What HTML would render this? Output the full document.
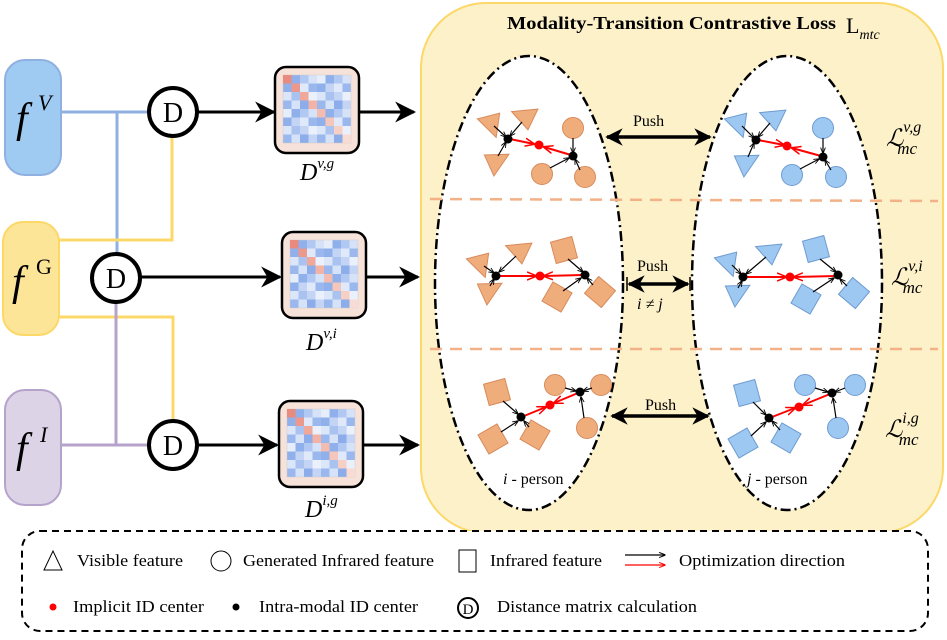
<!DOCTYPE html>
<html><head><meta charset="utf-8"><style>
html,body{margin:0;padding:0;background:#fff;}
svg{display:block;}
text{font-family:"Liberation Serif",serif;}
</style></head><body>
<svg width="947" height="640" viewBox="0 0 947 640" xmlns="http://www.w3.org/2000/svg">
<defs>
<marker id="ab" viewBox="0 0 10 10" refX="9" refY="5" markerWidth="7" markerHeight="7" orient="auto-start-reverse"><path d="M0,0 L10,5 L0,10 L3,5 z" fill="#000"/></marker>
<marker id="abig" viewBox="0 0 10 10" refX="9" refY="5" markerWidth="5" markerHeight="5" orient="auto-start-reverse"><path d="M0,0 L10,5 L0,10 L3,5 z" fill="#000"/></marker>
<marker id="as" viewBox="0 0 10 10" refX="9" refY="5" markerWidth="5" markerHeight="5" orient="auto"><path d="M0,1 L10,5 L0,9" fill="none" stroke="#000" stroke-width="1.5"/></marker>
<marker id="ar" viewBox="0 0 10 10" refX="9" refY="5" markerWidth="5" markerHeight="5" orient="auto"><path d="M0,1 L10,5 L0,9" fill="none" stroke="#f00" stroke-width="1.5"/></marker>
<pattern id="mp" x="0" y="0" width="34" height="34" patternUnits="userSpaceOnUse">
<rect width="34" height="34" fill="#c3d4f4"/>
<rect x="0" y="0" width="8.5" height="8.5" fill="#e6eefb"/><rect x="8.5" y="0" width="8.5" height="8.5" fill="#8fb0ea"/><rect x="17" y="0" width="8.5" height="8.5" fill="#b0c8f2"/><rect x="25.5" y="0" width="8.5" height="8.5" fill="#d6e2f8"/>
<rect x="0" y="8.5" width="8.5" height="8.5" fill="#8fb0ea"/><rect x="17" y="8.5" width="8.5" height="8.5" fill="#e0e9fa"/><rect x="25.5" y="8.5" width="8.5" height="8.5" fill="#9ab8ee"/>
<rect x="0" y="17" width="8.5" height="8.5" fill="#dbe6f9"/><rect x="8.5" y="17" width="8.5" height="8.5" fill="#a9c2f0"/><rect x="25.5" y="17" width="8.5" height="8.5" fill="#eaf0fc"/>
<rect x="0" y="25.5" width="8.5" height="8.5" fill="#9ab8ee"/><rect x="8.5" y="25.5" width="8.5" height="8.5" fill="#d6e2f8"/><rect x="17" y="25.5" width="8.5" height="8.5" fill="#8cacea"/>
</pattern>
<g id="mat">
<rect x="0" y="0" width="84" height="86" rx="11" fill="#f6e2d8" stroke="#000" stroke-width="2.5"/>
<g transform="translate(8,8)">
<rect x="0" y="0" width="68" height="68" fill="url(#mp)" stroke="#ccc" stroke-width="0.5"/>
<rect x="0" y="0" width="8.5" height="8.5" fill="#e88a7e"/><rect x="8.5" y="8.5" width="8.5" height="8.5" fill="#eb998d"/><rect x="17" y="17" width="8.5" height="8.5" fill="#efa899"/><rect x="25.5" y="25.5" width="8.5" height="8.5" fill="#f2b3a6"/><rect x="34" y="34" width="8.5" height="8.5" fill="#f3bcb0"/><rect x="42.5" y="42.5" width="8.5" height="8.5" fill="#f5c6bb"/><rect x="51" y="51" width="8.5" height="8.5" fill="#f6cfc5"/><rect x="59.5" y="59.5" width="8.5" height="8.5" fill="#f8dbd3"/>
</g>
</g>
<g id="D"><circle r="24" fill="#fff" stroke="#000" stroke-width="4"/><text y="10" text-anchor="middle" font-size="28">D</text></g>
<polygon id="to" points="-12,-12 12,-1 -7,12" fill="#f0ad7c" stroke="#d88a5a" stroke-width="1"/>
<polygon id="tb" points="-12,-12 12,-1 -7,12" fill="#9cc8f2" stroke="#6f9bd0" stroke-width="1"/>
<circle id="co" r="10.5" fill="#f0ad7c" stroke="#d88a5a" stroke-width="1"/>
<circle id="cb" r="10.5" fill="#9cc8f2" stroke="#6f9bd0" stroke-width="1"/>
<rect id="so" x="-11" y="-11" width="22" height="22" fill="#f0ad7c" stroke="#d88a5a" stroke-width="1"/>
<rect id="sb" x="-11" y="-11" width="22" height="22" fill="#9cc8f2" stroke="#6f9bd0" stroke-width="1"/>
</defs>

<!-- left feature boxes -->
<rect x="5" y="60" width="56" height="115" rx="20" fill="#9fcbf3" stroke="#8fb0e0" stroke-width="2"/>
<rect x="3" y="222" width="56" height="113" rx="20" fill="#fde598" stroke="#fcd869" stroke-width="2"/>
<rect x="5" y="390" width="56" height="115" rx="20" fill="#dcd4e6" stroke="#b6a3cc" stroke-width="2"/>
<text x="16" y="132" font-size="42" font-style="italic">f</text><text x="38" y="110" font-size="22" font-style="italic">V</text>
<text x="12" y="295" font-size="42" font-style="italic">f</text><text x="36" y="274" font-size="22">G</text>
<text x="16" y="462" font-size="42" font-style="italic">f</text><text x="40" y="442" font-size="22" font-style="italic">I</text>

<!-- connectors -->
<g fill="none" stroke-width="3">
<path d="M61,112 H150 M117,112 V254" stroke="#8fb0e0"/>
<path d="M59,240 H172 V137" stroke="#fcd869"/>
<path d="M59,317 H173 V421" stroke="#fcd869"/>
<path d="M116,302 V445 M61,445 H150" stroke="#b6a3cc"/>
</g>
<g stroke="#000" stroke-width="3" fill="none">
<line x1="197" y1="112" x2="274" y2="112" marker-end="url(#ab)"/>
<line x1="140" y1="277" x2="280" y2="277" marker-end="url(#ab)"/>
<line x1="197" y1="445" x2="277" y2="445" marker-end="url(#ab)"/>
<line x1="360" y1="112" x2="414" y2="112" marker-end="url(#ab)"/>
<line x1="366" y1="277" x2="418" y2="277" marker-end="url(#ab)"/>
<line x1="363" y1="445" x2="418" y2="445" marker-end="url(#ab)"/>
</g>
<use href="#D" x="173" y="112"/><use href="#D" x="116" y="278"/><use href="#D" x="173" y="445"/>
<use href="#mat" x="275" y="67"/><use href="#mat" x="282" y="232"/><use href="#mat" x="279" y="401"/>
<text x="300" y="180" font-size="24" font-style="italic">D<tspan font-size="15" dy="-12">v,g</tspan></text>
<text x="306" y="350" font-size="24" font-style="italic">D<tspan font-size="15" dy="-12">v,i</tspan></text>
<text x="305" y="517" font-size="24" font-style="italic">D<tspan font-size="15" dy="-12">i,g</tspan></text>

<!-- big region -->
<rect x="421" y="3" width="522" height="530" rx="65" fill="#fdf1c9" stroke="#fcd869" stroke-width="2"/>
<text x="507" y="29" font-size="18" font-weight="bold" textLength="329" lengthAdjust="spacingAndGlyphs">Modality-Transition Contrastive Loss</text>
<text x="846" y="33" font-size="22">L<tspan font-size="14" font-style="italic" dy="6">mtc</tspan></text>
<ellipse cx="529" cy="283" rx="94" ry="227" fill="#fff" stroke="#000" stroke-width="2.5" stroke-dasharray="10,4,2,4"/>
<ellipse cx="787" cy="283" rx="95" ry="227" fill="#fff" stroke="#000" stroke-width="2.5" stroke-dasharray="10,4,2,4"/>
<g stroke="#f2b187" stroke-width="2.5" stroke-dasharray="12,8">
<line x1="430" y1="199" x2="938" y2="201"/><line x1="430" y1="349" x2="938" y2="349"/>
</g>

<!-- push arrows -->
<g stroke="#000" stroke-width="3.5">
<line x1="607" y1="137" x2="710" y2="137" marker-start="url(#abig)" marker-end="url(#abig)"/>
<line x1="629" y1="284" x2="688" y2="284" marker-start="url(#abig)" marker-end="url(#abig)"/>
<line x1="612" y1="416" x2="708" y2="416" marker-start="url(#abig)" marker-end="url(#abig)"/>
<line x1="627" y1="277" x2="627" y2="291" stroke-width="1.5"/><line x1="690" y1="277" x2="690" y2="291" stroke-width="1.5"/>
</g>
<g font-size="16">
<text x="633" y="126">Push</text>
<text x="637" y="271">Push</text>
<text x="645" y="410">Push</text>
<text x="637" y="309" font-style="italic">i ≠ j</text>
<text x="503" y="484"><tspan font-style="italic">i</tspan> - person</text>
<text x="747" y="484"><tspan font-style="italic">j</tspan> - person</text>
</g>
<g font-size="24" font-style="italic">
<text x="886" y="146">ℒ<tspan font-size="16" dy="-14">v,g</tspan><tspan font-size="17" dx="-24" dy="22">mc</tspan></text>
<text x="891" y="285">ℒ<tspan font-size="16" dy="-14">v,i</tspan><tspan font-size="17" dx="-20" dy="22">mc</tspan></text>
<text x="885" y="437">ℒ<tspan font-size="16" dy="-14">i,g</tspan><tspan font-size="17" dx="-20" dy="22">mc</tspan></text>
</g>

<!-- row 1 left -->
<use href="#to" transform="translate(489,122) rotate(200)"/><use href="#to" transform="translate(528,116) rotate(-30)"/><use href="#to" transform="translate(495,164) rotate(100)"/>
<use href="#co" x="573" y="128"/><use href="#co" x="542" y="174"/><use href="#co" x="585" y="177"/>
<g stroke="#000" stroke-width="1.2" marker-end="url(#as)">
<line x1="494" y1="126" x2="506" y2="137"/><line x1="522" y1="122" x2="510" y2="136"/><line x1="498" y1="156" x2="506" y2="142"/>
<line x1="573" y1="138" x2="573" y2="153"/><line x1="550" y1="168" x2="569" y2="158"/><line x1="580" y1="170" x2="575" y2="159"/>
</g>
<g stroke="#f00" stroke-width="2"><line x1="510" y1="139" x2="534" y2="144" marker-end="url(#ar)"/><line x1="571" y1="155" x2="544" y2="147" marker-end="url(#ar)"/></g>
<circle cx="508" cy="139" r="4.5"/><circle cx="573" cy="156" r="4.5"/><circle cx="539" cy="145" r="4.5" fill="#f00"/>

<!-- row 1 right -->
<use href="#tb" transform="translate(736,122) rotate(200)"/><use href="#tb" transform="translate(776,117) rotate(-30)"/><use href="#tb" transform="translate(745,165) rotate(100)"/>
<use href="#cb" x="823" y="128"/><use href="#cb" x="792" y="175"/><use href="#cb" x="836" y="177"/>
<g stroke="#000" stroke-width="1.2" marker-end="url(#as)">
<line x1="742" y1="126" x2="754" y2="138"/><line x1="770" y1="123" x2="758" y2="137"/><line x1="748" y1="157" x2="754" y2="143"/>
<line x1="823" y1="138" x2="823" y2="153"/><line x1="800" y1="169" x2="819" y2="159"/><line x1="831" y1="170" x2="825" y2="160"/>
</g>
<g stroke="#f00" stroke-width="2"><line x1="758" y1="140" x2="784" y2="145" marker-end="url(#ar)"/><line x1="821" y1="156" x2="792" y2="148" marker-end="url(#ar)"/></g>
<circle cx="756" cy="140" r="4.5"/><circle cx="823" cy="157" r="4.5"/><circle cx="787" cy="146" r="4.5" fill="#f00"/>

<!-- row 2 left -->
<use href="#to" transform="translate(478,262) rotate(200)"/><use href="#to" transform="translate(522,250) rotate(-30)"/><use href="#to" transform="translate(488,293) rotate(100)"/>
<use href="#so" transform="translate(564,250) rotate(-15)"/><use href="#so" transform="translate(557,297) rotate(30)"/><use href="#so" transform="translate(600,292) rotate(40)"/>
<g stroke="#000" stroke-width="1.2" marker-end="url(#as)">
<line x1="484" y1="266" x2="494" y2="273"/><line x1="516" y1="256" x2="499" y2="272"/><line x1="490" y1="286" x2="494" y2="279"/>
<line x1="568" y1="259" x2="583" y2="272"/><line x1="563" y1="291" x2="581" y2="278"/><line x1="593" y1="285" x2="587" y2="278"/>
</g>
<g stroke="#f00" stroke-width="2"><line x1="499" y1="276" x2="536" y2="276" marker-end="url(#ar)"/><line x1="583" y1="275" x2="544" y2="276" marker-end="url(#ar)"/></g>
<circle cx="496" cy="276" r="4.5"/><circle cx="585" cy="275" r="4.5"/><circle cx="540" cy="276" r="4.5" fill="#f00"/>

<!-- row 2 right -->
<use href="#tb" transform="translate(726,261) rotate(200)"/><use href="#tb" transform="translate(772,251) rotate(-30)"/><use href="#tb" transform="translate(736,295) rotate(100)"/>
<use href="#sb" transform="translate(816,249) rotate(-15)"/><use href="#sb" transform="translate(806,299) rotate(30)"/><use href="#sb" transform="translate(854,293) rotate(40)"/>
<g stroke="#000" stroke-width="1.2" marker-end="url(#as)">
<line x1="732" y1="265" x2="741" y2="274"/><line x1="766" y1="257" x2="746" y2="274"/><line x1="738" y1="288" x2="742" y2="281"/>
<line x1="820" y1="259" x2="836" y2="272"/><line x1="813" y1="292" x2="834" y2="278"/><line x1="847" y1="286" x2="840" y2="279"/>
</g>
<g stroke="#f00" stroke-width="2"><line x1="746" y1="277" x2="786" y2="277" marker-end="url(#ar)"/><line x1="836" y1="276" x2="794" y2="277" marker-end="url(#ar)"/></g>
<circle cx="743" cy="277" r="4.5"/><circle cx="838" cy="275" r="4.5"/><circle cx="790" cy="277" r="4.5" fill="#f00"/>

<!-- row 3 left -->
<use href="#so" transform="translate(497,392) rotate(-15)"/><use href="#so" transform="translate(493,439) rotate(-30)"/><use href="#so" transform="translate(535,435) rotate(30)"/>
<use href="#co" x="555" y="385"/><use href="#co" x="601" y="385"/><use href="#co" x="587" y="428"/>
<g stroke="#000" stroke-width="1.2" marker-end="url(#as)">
<line x1="503" y1="401" x2="518" y2="414"/><line x1="501" y1="432" x2="518" y2="421"/><line x1="529" y1="427" x2="524" y2="421"/>
<line x1="565" y1="388" x2="576" y2="391"/><line x1="592" y1="388" x2="583" y2="391"/><line x1="584" y1="418" x2="581" y2="397"/>
</g>
<g stroke="#f00" stroke-width="2"><line x1="524" y1="416" x2="546" y2="407" marker-end="url(#ar)"/><line x1="578" y1="393" x2="554" y2="403" marker-end="url(#ar)"/></g>
<circle cx="521" cy="417" r="4.5"/><circle cx="580" cy="392" r="4.5"/><circle cx="550" cy="405" r="4.5" fill="#f00"/>

<!-- row 3 right -->
<use href="#sb" transform="translate(747,393) rotate(-15)"/><use href="#sb" transform="translate(743,443) rotate(-30)"/><use href="#sb" transform="translate(786,438) rotate(30)"/>
<use href="#cb" x="805" y="385"/><use href="#cb" x="855" y="385"/><use href="#cb" x="838" y="428"/>
<g stroke="#000" stroke-width="1.2" marker-end="url(#as)">
<line x1="753" y1="402" x2="766" y2="415"/><line x1="751" y1="436" x2="766" y2="422"/><line x1="780" y1="430" x2="772" y2="421"/>
<line x1="815" y1="388" x2="828" y2="392"/><line x1="845" y1="388" x2="835" y2="392"/><line x1="836" y1="418" x2="833" y2="398"/>
</g>
<g stroke="#f00" stroke-width="2"><line x1="772" y1="417" x2="795" y2="408" marker-end="url(#ar)"/><line x1="830" y1="394" x2="803" y2="405" marker-end="url(#ar)"/></g>
<circle cx="769" cy="418" r="4.5"/><circle cx="832" cy="393" r="4.5"/><circle cx="799" cy="407" r="4.5" fill="#f00"/>

<!-- legend -->
<rect x="22" y="531" width="906" height="100" rx="18" fill="#fff" stroke="#000" stroke-width="2" stroke-dasharray="7,5"/>
<g font-size="17">
<polygon points="53,551 44,570 62,570" fill="#fff" stroke="#000" stroke-width="1"/>
<text x="77" y="566" textLength="106" lengthAdjust="spacingAndGlyphs">Visible feature</text>
<circle cx="221" cy="561" r="10" fill="#fff" stroke="#000" stroke-width="1"/>
<text x="243" y="566" textLength="191" lengthAdjust="spacingAndGlyphs">Generated Infrared feature</text>
<rect x="459" y="550" width="17" height="22" fill="#fff" stroke="#000" stroke-width="1"/>
<text x="490" y="566" textLength="112" lengthAdjust="spacingAndGlyphs">Infrared feature</text>
<line x1="625" y1="555" x2="665" y2="555" stroke="#000" stroke-width="1.3" marker-end="url(#as)"/>
<line x1="625" y1="565" x2="665" y2="565" stroke="#f00" stroke-width="1.3" marker-end="url(#ar)"/>
<text x="679" y="566" textLength="166" lengthAdjust="spacingAndGlyphs">Optimization direction</text>
<circle cx="53" cy="607" r="3.5" fill="#f00"/>
<text x="73" y="612" textLength="131" lengthAdjust="spacingAndGlyphs">Implicit ID center</text>
<circle cx="236" cy="607" r="3.5" fill="#000"/>
<text x="259" y="612" textLength="159" lengthAdjust="spacingAndGlyphs">Intra-modal ID center</text>
<circle cx="468" cy="608" r="10" fill="#fff" stroke="#000" stroke-width="2"/>
<text x="468" y="614" font-size="15" text-anchor="middle">D</text>
<text x="497" y="612" textLength="200" lengthAdjust="spacingAndGlyphs">Distance matrix calculation</text>
</g>
</svg>
</body></html>
